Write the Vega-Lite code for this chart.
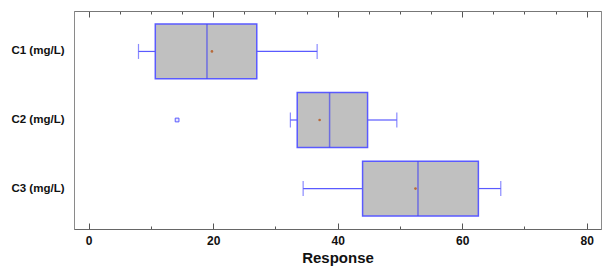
{
  "$schema": "https://vega.github.io/schema/vega-lite/v6.json",
  "width": 527,
  "height": 218,
  "autosize": "none",
  "padding": {"left": 74, "top": 11, "right": 10, "bottom": 43},
  "background": "white",
  "config": {
    "view": {"stroke": "#8a8a8a", "strokeWidth": 1},
    "font": "Liberation Sans"
  },
  "datasets": {
    "boxes": [
      {"var": "C1 (mg/L)", "lo": 8.0, "q1": 10.7, "med": 19.0, "q3": 27.0, "hi": 36.7, "mean": 19.8},
      {"var": "C2 (mg/L)", "lo": 32.4, "q1": 33.5, "med": 38.7, "q3": 44.8, "hi": 49.5, "mean": 37.1},
      {"var": "C3 (mg/L)", "lo": 34.45, "q1": 44.0, "med": 52.9, "q3": 62.6, "hi": 66.2, "mean": 52.5}
    ],
    "outliers": [
      {"var": "C2 (mg/L)", "value": 14.2}
    ]
  },
  "resolve": {"axis": {"x": "independent"}},
  "layer": [
    {
      "data": {"name": "boxes"},
      "encoding": {
        "y": {
          "field": "var", "type": "nominal", "sort": ["C1 (mg/L)", "C2 (mg/L)", "C3 (mg/L)"],
          "scale": {"paddingInner": 0.2, "paddingOuter": 0.19},
          "axis": {"title": null, "ticks": false, "domain": false, "labelFont": "Liberation Sans", "labelFontWeight": "bold", "labelFontSize": 11.5, "labelColor": "#111", "labelPadding": 10}
        }
      },
      "layer": [
        {
          "mark": {"type": "rule", "color": "#5a5aff", "strokeWidth": 1.2},
          "encoding": {
            "x": {
              "field": "lo", "type": "quantitative",
              "scale": {"domain": [-2.36, 82.3], "nice": false, "zero": false},
              "axis": {
                "orient": "bottom",
                "values": [0, 5, 10, 15, 20, 25, 30, 35, 40, 45, 50, 55, 60, 65, 70, 75, 80],
                "labelExpr": "datum.value % 20 === 0 ? datum.label : ''",
                "tickSize": {"condition": {"test": "datum.value % 20 === 0", "value": -6}, "value": -3},
                "tickColor": "#555",
                "domainColor": "#666",
                "grid": false,
                "labelFont": "Liberation Sans", "labelFontWeight": "bold", "labelFontSize": 12, "labelColor": "#111",
                "labelPadding": 12,
                "title": "Response",
                "titleFont": "Liberation Sans", "titleFontWeight": "bold", "titleFontSize": 15, "titleColor": "#111",
                "titlePadding": 4
              }
            },
            "x2": {"field": "q1"}
          }
        },
        {
          "mark": {"type": "rule", "color": "#5a5aff", "strokeWidth": 1.2},
          "encoding": {"x": {"field": "q3", "type": "quantitative"}, "x2": {"field": "hi"}}
        },
        {
          "mark": {"type": "tick", "color": "#5a5aff", "size": 15, "thickness": 1.2, "orient": "vertical"},
          "encoding": {"x": {"field": "lo", "type": "quantitative"}}
        },
        {
          "mark": {"type": "tick", "color": "#5a5aff", "size": 15, "thickness": 1.2, "orient": "vertical"},
          "encoding": {"x": {"field": "hi", "type": "quantitative"}}
        },
        {
          "mark": {"type": "bar", "fill": "#c0c0c0", "stroke": "#5a5aff", "strokeWidth": 1.5},
          "encoding": {"x": {"field": "q1", "type": "quantitative"}, "x2": {"field": "q3"}}
        },
        {
          "mark": {"type": "tick", "color": "#4a4af0", "size": 55, "thickness": 1.5, "orient": "vertical"},
          "encoding": {"x": {"field": "med", "type": "quantitative"}}
        },
        {
          "mark": {"type": "point", "filled": true, "shape": "circle", "size": 7, "color": "#b86a3a", "opacity": 1},
          "encoding": {"x": {"field": "mean", "type": "quantitative"}}
        }
      ]
    },
    {
      "data": {"name": "outliers"},
      "mark": {"type": "point", "shape": "square", "size": 14, "stroke": "#5a5aff", "fill": "#e8e8ff", "filled": false, "strokeWidth": 1, "opacity": 1},
      "encoding": {
        "y": {"field": "var", "type": "nominal", "sort": ["C1 (mg/L)", "C2 (mg/L)", "C3 (mg/L)"]},
        "x": {
          "field": "value", "type": "quantitative",
          "axis": {
            "orient": "top",
            "values": [0, 5, 10, 15, 20, 25, 30, 35, 40, 45, 50, 55, 60, 65, 70, 75, 80],
            "labels": false,
            "title": null,
            "grid": false,
            "tickSize": {"condition": {"test": "datum.value % 20 === 0", "value": -6}, "value": -3},
            "tickColor": "#555",
            "domainColor": "#777"
          }
        }
      }
    }
  ]
}
